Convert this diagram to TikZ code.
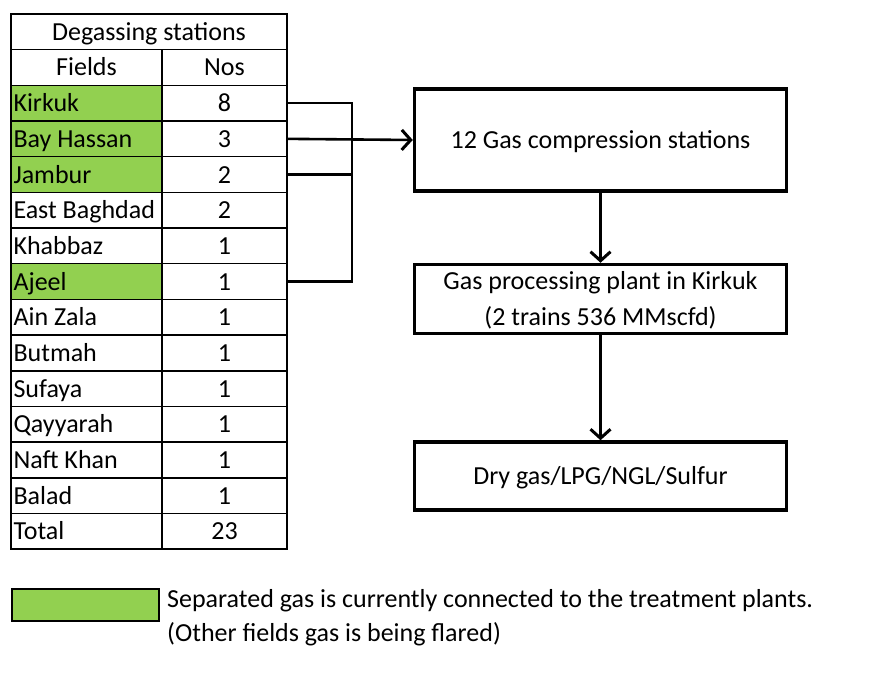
\documentclass[tikz,border=0pt]{standalone}
\usepackage{fontspec}
\setmainfont{Carlito}
\usetikzlibrary{arrows.meta,positioning,calc}
\definecolor{fld}{HTML}{92D050}
\tikzset{
  cell/.style={draw,line width=1.6pt,minimum height=35.67pt,inner sep=0pt,outer sep=0pt,text height=17pt,text depth=0pt},
  fcell/.style={cell,minimum width=151pt,text width=146pt,align=flush left},
  ncell/.style={cell,minimum width=125pt,align=center},
  box/.style={draw,line width=3.5pt,minimum width=372pt,align=center,inner sep=4pt,text height=17pt,text depth=0pt},
  ar/.style={-{Straight Barb[length=9pt,width=20pt,line width=3pt]},line width=2.6pt},
  wire/.style={line width=2.6pt},
}

\begin{document}
\begin{tikzpicture}[x=1pt,y=-1pt,font=\fontsize{26}{31}\selectfont]
\useasboundingbox (0,0) rectangle (893,682);
% degassing stations table
\node[cell,minimum width=276pt] (hdr) at (149,31.8) {Degassing stations};
\node[ncell,minimum width=151pt] (fh) at (86.5,67.5) {Fields};
\node[ncell] (nh) at (224.5,67.5) {Nos};
\foreach \i/\fname/\nos/\fc in {2/Kirkuk/8/fld,3/Bay Hassan/3/fld,4/Jambur/2/fld,
  5/East Baghdad/2/white,6/Khabbaz/1/white,7/Ajeel/1/fld,8/Ain Zala/1/white,
  9/Butmah/1/white,10/Sufaya/1/white,11/Qayyarah/1/white,12/Naft Khan/1/white,
  13/Balad/1/white,14/Total/23/white}{
  \node[fcell,fill=\fc] (f\i) at (86.5,{14+(\i+0.5)*35.67}) {\fname};
  \node[ncell] (n\i) at (224.5,{14+(\i+0.5)*35.67}) {\nos};
}
\draw[line width=2.6pt] (hdr.north west) rectangle (n14.south east);
% flow boxes
\node[box,minimum height=102pt] (comp) at (600.5,140) {12 Gas compression stations};
\node[box,minimum height=69pt,text height=53pt,below=70pt of comp] (proc) {Gas processing plant in Kirkuk\\[5pt](2 trains 536 MMscfd)};
\node[box,minimum height=68pt,below=105pt of proc] (prod) {Dry gas/LPG/NGL/Sulfur};
\coordinate (bus) at (352,0);
\draw[wire] (n2.east) -| (n7.east -| bus) -- (n7.east);
\draw[wire] (n4.east) -- (n4.east -| bus);
\draw[ar] (n3.east) -- (comp.west);
\draw[ar] (comp) -- (proc);
\draw[ar] (proc) -- (prod);
% legend
\node[draw,line width=2pt,fill=fld,minimum width=147pt,minimum height=32pt] (key) at (85.5,605) {};
\node[anchor=north west,align=left,inner sep=0pt,font=\fontsize{26}{34}\selectfont] (note)
  at ([xshift=7pt,yshift=-1pt]key.north east) {Separated gas is currently connected to the treatment plants.\\(Other fields gas is being flared)};
\end{tikzpicture}
\end{document}
